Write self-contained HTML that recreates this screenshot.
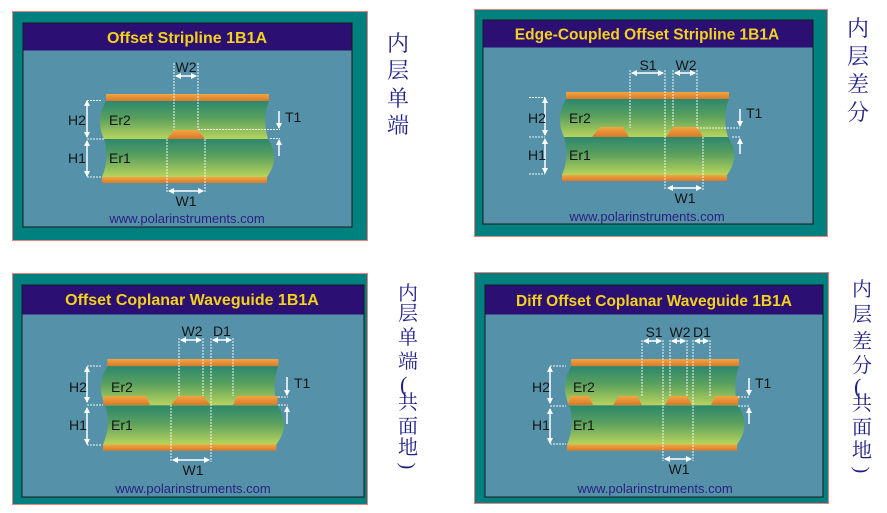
<!DOCTYPE html>
<html><head><meta charset="utf-8"><style>
html,body{margin:0;padding:0;background:#fff;}
#w{position:relative;width:887px;height:513px;overflow:hidden;}
.c{position:absolute;font-family:"Liberation Serif","Noto Serif CJK SC",serif;color:#1e1e86;line-height:1;}
</style></head><body><div id="w">
<svg width="887" height="513" xmlns="http://www.w3.org/2000/svg" style="position:absolute;left:0;top:0">
<defs>
<linearGradient id="gr" x1="0" y1="0" x2="0" y2="1"><stop offset="0" stop-color="#2c876e"/><stop offset="0.45" stop-color="#5aa05e"/><stop offset="1" stop-color="#b9d45c"/></linearGradient>
<linearGradient id="cu" x1="0" y1="0" x2="0" y2="1"><stop offset="0" stop-color="#f2a640"/><stop offset="1" stop-color="#d9792a"/></linearGradient>
<marker id="ah" markerWidth="6" markerHeight="6" refX="5" refY="3" orient="auto-start-reverse" markerUnits="userSpaceOnUse"><path d="M0,0 L6,3 L0,6Z" fill="#fff"/></marker>
<g id="stack">
<rect x="106" y="94" width="163" height="7" fill="url(#cu)"/>
<path d="M106,101 L269,101 Q262,120 268,139 L104,139 Q95,120 106,101Z" fill="url(#gr)"/>
<path d="M104,139 L268,139 Q281,158 267,177 L102,177 Q110,158 104,139Z" fill="url(#gr)"/>
<rect x="102" y="177" width="165" height="6" fill="url(#cu)"/>
</g>
</defs>
<style>
.d{stroke:#fff;stroke-width:1;stroke-dasharray:2 1;fill:none;opacity:.9}
.a{stroke:#fff;stroke-width:1.5;marker-start:url(#ah);marker-end:url(#ah)}
.s{stroke:#fff;stroke-width:1.5;marker-end:url(#ah)}
.l{font-family:"Liberation Sans",sans-serif;font-size:14px;fill:#151515;}
.t{font-family:"Liberation Sans",sans-serif;font-weight:bold;fill:#f2d21c;text-anchor:middle;}
.u{font-family:"Liberation Sans",sans-serif;font-size:13px;fill:#2a1f80;text-anchor:middle;}
.cu{fill:url(#cu)}
</style>

<!-- Panel 1 -->
<rect x="12.5" y="11.5" width="355" height="229" fill="#00807f" stroke="#f08080"/>
<rect x="23" y="23" width="329" height="204" fill="#5592aa" stroke="#1a1a1a"/>
<rect x="23.5" y="23.5" width="328" height="27" fill="#2b0f73"/>
<text class="t" x="187" y="43" font-size="16">Offset Stripline 1B1A</text>
<use href="#stack"/>
<path class="cu" d="M167,139 L174,130 L198,130 L205,139Z"/>
<path class="d" d="M174,63V130M198,63V129.5M167,139V192M205,139V192M87,100.5H101M87,139H104M87,177H102M198,129.5H280M270,138.5H280"/>
<line class="a" x1="176" y1="76" x2="196" y2="76"/>
<line class="a" x1="169" y1="191" x2="203" y2="191"/>
<line class="a" x1="87" y1="101" x2="87" y2="137"/>
<line class="a" x1="87" y1="141" x2="87" y2="176"/>
<line class="s" x1="279" y1="111" x2="279" y2="128"/>
<line class="s" x1="279" y1="156" x2="279" y2="140"/>
<text class="l" x="186" y="72" text-anchor="middle">W2</text>
<text class="l" x="186" y="206" text-anchor="middle">W1</text>
<text class="l" x="68" y="125">H2</text>
<text class="l" x="68" y="163">H1</text>
<text class="l" x="109" y="125">Er2</text>
<text class="l" x="109" y="163">Er1</text>
<text class="l" x="285" y="122">T1</text>
<text class="u" x="187" y="223">www.polarinstruments.com</text>

<!-- Panel 2 -->
<rect x="474.5" y="9.5" width="353" height="227" fill="#00807f" stroke="#f08080"/>
<rect x="483" y="20" width="330" height="204" fill="#5592aa" stroke="#1a1a1a"/>
<rect x="483.5" y="20.5" width="329" height="27" fill="#2b0f73"/>
<text class="t" x="647" y="39.5" font-size="15.5">Edge-Coupled Offset Stripline 1B1A</text>
<use href="#stack" transform="translate(460,-2)"/>
<path class="cu" d="M592,137 L600,127 L623,127 L629,137Z"/>
<path class="cu" d="M666,137 L673,127 L697,127 L703,137Z"/>
<path class="d" d="M630,70V128M665,70V190M673,70V127M697,70V128M703,137V190M529,97.5H545M529,137H545M529,174H545M697,128H740M732,137H740"/>
<line class="a" x1="632" y1="73" x2="663" y2="73"/>
<line class="a" x1="675" y1="73" x2="695" y2="73"/>
<line class="a" x1="668" y1="188" x2="701" y2="188"/>
<line class="a" x1="545" y1="98" x2="545" y2="135"/>
<line class="a" x1="545" y1="139" x2="545" y2="173"/>
<line class="s" x1="740" y1="109" x2="740" y2="126"/>
<line class="s" x1="740" y1="154" x2="740" y2="139"/>
<text class="l" x="648" y="70" text-anchor="middle">S1</text>
<text class="l" x="686" y="70" text-anchor="middle">W2</text>
<text class="l" x="685" y="203" text-anchor="middle">W1</text>
<text class="l" x="528" y="123">H2</text>
<text class="l" x="528" y="160">H1</text>
<text class="l" x="569" y="123">Er2</text>
<text class="l" x="569" y="160">Er1</text>
<text class="l" x="746" y="118">T1</text>
<text class="u" x="647" y="221">www.polarinstruments.com</text>

<!-- Panel 3 -->
<rect x="12.5" y="273.5" width="355" height="231" fill="#00807f" stroke="#f08080"/>
<rect x="22" y="285" width="342" height="212" fill="#5592aa" stroke="#1a1a1a"/>
<rect x="22.5" y="285.5" width="341" height="29" fill="#2b0f73"/>
<text class="t" x="192" y="305" font-size="16">Offset Coplanar Waveguide 1B1A</text>
<use href="#stack" transform="translate(-4,262.2) scale(1.05,1.03)"/>
<path class="cu" d="M103,405 L104,396 L146,396 L150,405Z"/>
<path class="cu" d="M171,405 L178,396 L203,396 L211,405Z"/>
<path class="cu" d="M233,405 L237,396 L278,396 L277,405Z"/>
<path class="d" d="M179,338V396M203,338V396M211,338V462M233,338V396M171,405V462M87,366H101M87,405H103M87,445H101M278,397H288M278,405H288"/>
<line class="a" x1="181" y1="340" x2="201" y2="340"/>
<line class="a" x1="213" y1="340" x2="231" y2="340"/>
<line class="a" x1="173" y1="460" x2="209" y2="460"/>
<line class="a" x1="87" y1="367" x2="87" y2="402"/>
<line class="a" x1="87" y1="408" x2="87" y2="444"/>
<line class="s" x1="287" y1="377" x2="287" y2="395"/>
<line class="s" x1="287" y1="424" x2="287" y2="407"/>
<text class="l" x="192" y="336" text-anchor="middle">W2</text>
<text class="l" x="222" y="336" text-anchor="middle">D1</text>
<text class="l" x="193" y="475" text-anchor="middle">W1</text>
<text class="l" x="69" y="392">H2</text>
<text class="l" x="69" y="430">H1</text>
<text class="l" x="111" y="392">Er2</text>
<text class="l" x="111" y="430">Er1</text>
<text class="l" x="294" y="388">T1</text>
<text class="u" x="193" y="493">www.polarinstruments.com</text>

<!-- Panel 4 -->
<rect x="474.5" y="272.5" width="354" height="231" fill="#00807f" stroke="#f08080"/>
<rect x="485" y="285" width="338" height="212" fill="#5592aa" stroke="#1a1a1a"/>
<rect x="485.5" y="285.5" width="337" height="29" fill="#2b0f73"/>
<text class="t" x="654" y="306" font-size="15.5">Diff Offset Coplanar Waveguide 1B1A</text>
<use href="#stack" transform="translate(462,262.2) scale(1.03,1.03)"/>
<path class="cu" d="M568,405 L570,396 L589,396 L593,405Z"/>
<path class="cu" d="M613,405 L619,396 L637,396 L642,405Z"/>
<path class="cu" d="M665,405 L670,396 L687,396 L692,405Z"/>
<path class="cu" d="M711,405 L715,396 L739,396 L738,405Z"/>
<path class="d" d="M642,340V396M663,340V461M670,340V396M687,340V396M693,340V461M710,340V396M550,366H566M550,406H566M550,444H566M738,397H749M738,406H749"/>
<line class="a" x1="644" y1="341" x2="661" y2="341"/>
<line class="a" x1="672" y1="341" x2="685" y2="341"/>
<line class="a" x1="695" y1="341" x2="708" y2="341"/>
<line class="a" x1="665" y1="459" x2="691" y2="459"/>
<line class="a" x1="550" y1="367" x2="550" y2="403"/>
<line class="a" x1="550" y1="409" x2="550" y2="443"/>
<line class="s" x1="749" y1="378" x2="749" y2="395"/>
<line class="s" x1="749" y1="424" x2="749" y2="408"/>
<text class="l" x="654" y="337" text-anchor="middle">S1</text>
<text class="l" x="680" y="337" text-anchor="middle">W2</text>
<text class="l" x="702" y="337" text-anchor="middle">D1</text>
<text class="l" x="679" y="474" text-anchor="middle">W1</text>
<text class="l" x="532" y="392">H2</text>
<text class="l" x="532" y="430">H1</text>
<text class="l" x="573" y="392">Er2</text>
<text class="l" x="573" y="430">Er1</text>
<text class="l" x="755" y="388">T1</text>
<text class="u" x="655" y="493">www.polarinstruments.com</text>
</svg>

<!-- Chinese vertical labels -->
<div class="c" style="left:387px;top:33px;font-size:22px">内</div>
<div class="c" style="left:387px;top:60px;font-size:22px">层</div>
<div class="c" style="left:387px;top:88px;font-size:22px">单</div>
<div class="c" style="left:387px;top:115px;font-size:22px">端</div>

<div class="c" style="left:847px;top:18px;font-size:22px">内</div>
<div class="c" style="left:847px;top:46px;font-size:22px">层</div>
<div class="c" style="left:847px;top:74px;font-size:22px">差</div>
<div class="c" style="left:847px;top:102px;font-size:22px">分</div>

<div class="c" style="left:398px;top:284px;font-size:20px">内</div>
<div class="c" style="left:398px;top:304px;font-size:20px">层</div>
<div class="c" style="left:398px;top:328px;font-size:20px">单</div>
<div class="c" style="left:398px;top:352px;font-size:20px">端</div>
<div class="c" style="left:400px;top:374px;font-size:22px">(</div>
<div class="c" style="left:398px;top:393px;font-size:20px">共</div>
<div class="c" style="left:398px;top:417px;font-size:20px">面</div>
<div class="c" style="left:398px;top:438px;font-size:20px">地</div>
<div class="c" style="left:404px;top:456px;font-size:20px;transform:rotate(90deg)">)</div>

<div class="c" style="left:852px;top:280px;font-size:20px">内</div>
<div class="c" style="left:852px;top:305px;font-size:20px">层</div>
<div class="c" style="left:852px;top:332px;font-size:20px">差</div>
<div class="c" style="left:852px;top:356px;font-size:20px">分</div>
<div class="c" style="left:854px;top:376px;font-size:22px">(</div>
<div class="c" style="left:852px;top:394px;font-size:20px">共</div>
<div class="c" style="left:852px;top:418px;font-size:20px">面</div>
<div class="c" style="left:852px;top:441px;font-size:20px">地</div>
<div class="c" style="left:858px;top:460px;font-size:20px;transform:rotate(90deg)">)</div>
</div></body></html>
